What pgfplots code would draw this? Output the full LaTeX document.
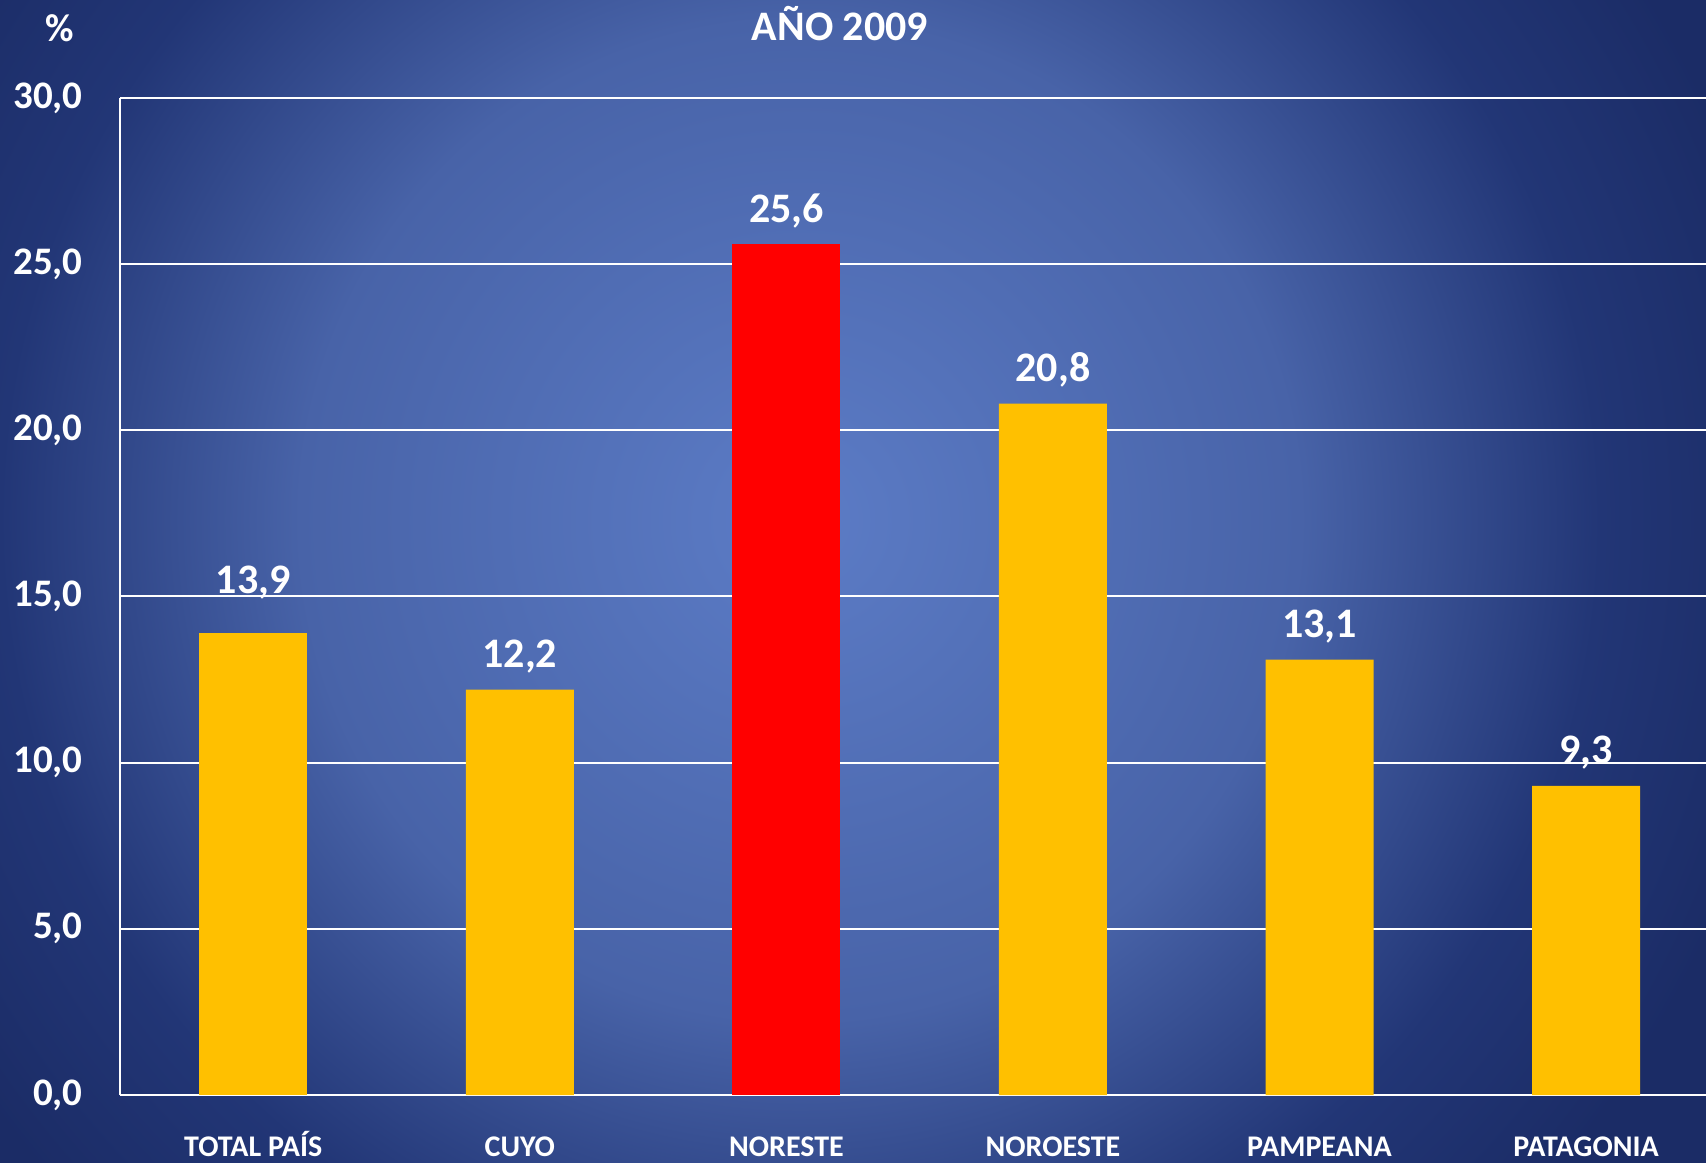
\documentclass[border=0pt]{standalone}
\usepackage{pgfplots}
\pgfplotsset{compat=1.18}
\usepackage{fontspec}
\setmainfont{Carlito}

\definecolor{bgcenter}{RGB}{92,124,198}
\definecolor{bgmid}{RGB}{72,99,168}
\definecolor{bgouter}{RGB}{34,54,118}
\definecolor{bgcorner}{RGB}{27,44,102}
\definecolor{barYellow}{RGB}{255,192,0}
\definecolor{barRed}{RGB}{255,0,0}

\pgfdeclareradialshading{bgshade}{\pgfpoint{0bp}{0bp}}{%
  color(0bp)=(bgcenter); color(12.5bp)=(bgmid); color(20bp)=(bgouter);
  color(25bp)=(bgcorner); color(50bp)=(bgcorner)}

\begin{document}
\begin{tikzpicture}
\useasboundingbox (0,0) rectangle (853pt,581pt);
\begin{scope}
  \clip (0,0) rectangle (853pt,581pt);
  \shade[shading=bgshade] (-100pt,-179pt) rectangle (900pt,821pt);
\end{scope}

% title and unit
\node[anchor=base, text=white, font=\fontsize{21}{24}\selectfont\bfseries] at (420pt,560.5pt) {AÑO 2009};
\node[anchor=base, text=white, font=\fontsize{19.5}{22}\selectfont\bfseries] at (30pt,560pt) {\%};

\begin{axis}[
  at={(60pt,33.5pt)}, anchor=south west,
  scale only axis,
  width=793pt, height=498.5pt,
  xmin=-0.5, xmax=5.45,
  ymin=0, ymax=30,
  ytick={0,5,...,30},
  xtick={0,...,5},
  xticklabels={TOTAL PAÍS, CUYO, NORESTE, NOROESTE, PAMPEANA, PATAGONIA},
  major tick length=0pt,
  axis x line=bottom, axis y line=left,
  axis line style={-, white, line width=1pt},
  ymajorgrids=true,
  major grid style={white, line width=1pt},
  /pgf/number format/assume math mode=true,
  /pgf/number format/.cd, fixed, fixed zerofill, precision=1, use comma,
  /pgfplots/.cd,
  yticklabel style={text=white, font=\fontsize{19.5}{22}\selectfont\bfseries,
    anchor=east, inner sep=0pt, xshift=-18.5pt},
  xticklabel style={text=white, font=\fontsize{15}{18}\selectfont\bfseries,
    anchor=north, inner sep=0pt, text height=10pt, text depth=0pt, yshift=-20.5pt},
  bar width=54pt,
  nodes near coords,
  every node near coord/.append style={text=white,
    font=\fontsize{21}{24}\selectfont\bfseries, anchor=base, inner sep=0pt, yshift=11pt},
  clip=false,
]
% TOTAL PAIS (its label sits a little higher in the original)
\addplot[ybar, bar shift=0pt, fill=barYellow, draw=none,
  every node near coord/.append style={yshift=9pt}] coordinates {
  (0,13.9)
};
\addplot[ybar, bar shift=0pt, fill=barYellow, draw=none] coordinates {
  (1,12.2) (3,20.8) (4,13.1) (5,9.3)
};
\addplot[ybar, bar shift=0pt, fill=barRed, draw=none] coordinates {
  (2,25.6)
};
\end{axis}
\end{tikzpicture}
\end{document}
